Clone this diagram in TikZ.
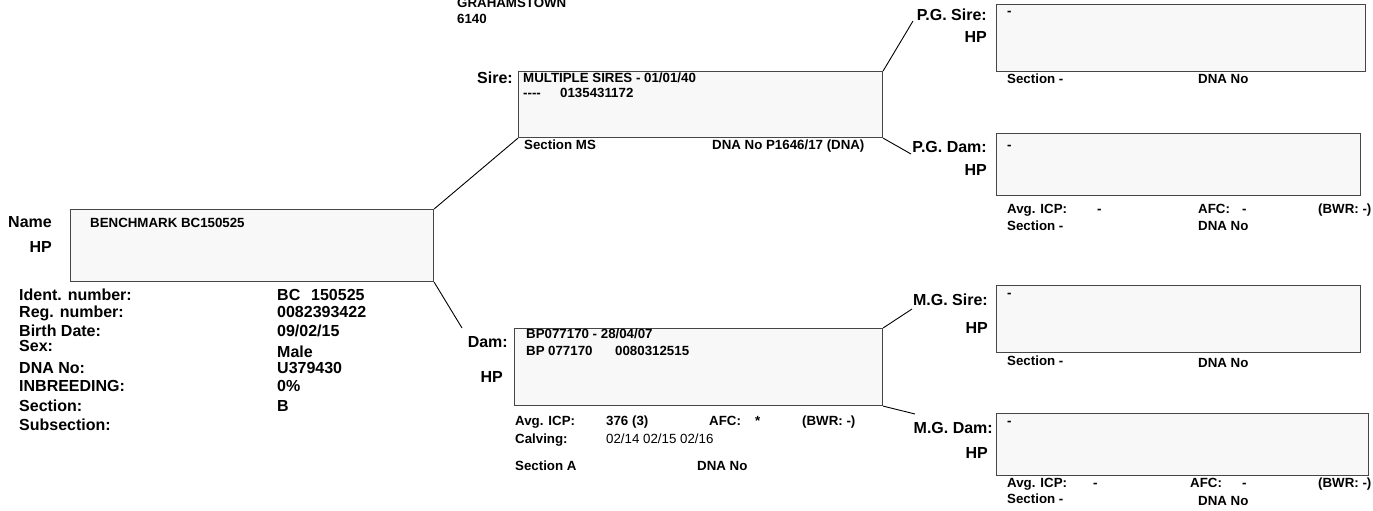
\documentclass[tikz,border=0pt]{standalone}
\usepackage{fontspec}
\setmainfont{Liberation Sans}
\definecolor{boxfill}{RGB}{248,248,248}
\definecolor{boxline}{RGB}{70,70,70}
\begin{document}
\begin{tikzpicture}[x=1pt,y=-1pt,
  pbox/.style={draw=boxline, fill=boxfill, line width=1.1pt, inner sep=0pt, anchor=north west},
  big/.style={font=\fontsize{16}{19}\selectfont\bfseries, inner sep=0pt},
  bigr/.style={big, anchor=base east},
  lst/.style={big, anchor=base west},
  sm/.style={font=\fontsize{13.3}{15}\selectfont\bfseries, inner sep=0pt, anchor=base west},
  smn/.style={font=\fontsize{13.3}{15}\selectfont, inner sep=0pt, anchor=base west},
  conn/.style={draw=black, line width=0.9pt}]
\useasboundingbox (0,0) rectangle (1373,511);

% boxes
\node[pbox, minimum width=363pt, minimum height=72pt] (main) at (70,209) {};
\node[pbox, minimum width=364pt, minimum height=66pt] (sire) at (518,71) {};
\node[pbox, minimum width=368pt, minimum height=77pt] (dam) at (514,328) {};
\node[pbox, minimum width=369pt, minimum height=67pt] (pgs) at (996,4) {};
\node[pbox, minimum width=364pt, minimum height=62pt] (pgd) at (996,133) {};
\node[pbox, minimum width=364pt, minimum height=67pt] (mgs) at (996,285) {};
\node[pbox, minimum width=372pt, minimum height=62pt] (mgd) at (996,413) {};

% free ends of connectors
\coordinate (damEnd) at (462,328);
\coordinate (pgsEnd) at (913,21);
\coordinate (pgdEnd) at (911,154);
\coordinate (mgsEnd) at (912,309);
\coordinate (mgdEnd) at (915,414);

\draw[conn] (main.north east) -- (sire.south west);
\draw[conn] (main.south east) -- (damEnd);
\draw[conn] (sire.north east) -- (pgsEnd);
\draw[conn] (sire.south east) -- (pgdEnd);
\draw[conn] (dam.north east) -- (mgsEnd);
\draw[conn] (dam.south east) -- (mgdEnd);

% top address
\node[sm] (town) at (457,8) {GRAHAMSTOWN};
\node[sm] (code) at (457,24) {6140};

% main animal
\node[bigr] (nameL) at (52,227) {Name};
\node[bigr] (hpL) at (52,252) {HP};
\node[sm] (nameT) at (90,227) {BENCHMARK BC150525};

\node[lst] (l1) at (19,300) {Ident. number:};
\node[lst] (l2) at (19,317) {Reg. number:};
\node[lst] (l3) at (19,336) {Birth Date:};
\node[lst] (l4) at (19,351) {Sex:};
\node[lst] (l5) at (19,373) {DNA No:};
\node[lst] (l6) at (19,391) {INBREEDING:};
\node[lst] (l7) at (19,411) {Section:};
\node[lst] (l8) at (19,430) {Subsection:};

\node[lst] (v1a) at (277,300) {BC};
\node[lst] (v1b) at (311,300) {150525};
\node[lst] (v2) at (277,317) {0082393422};
\node[lst] (v3) at (277,336) {09/02/15};
\node[lst] (v4) at (277,357) {Male};
\node[lst] (v5) at (277,373) {U379430};
\node[lst] (v6) at (277,391) {0\%};
\node[lst] (v7) at (277,411) {B};

% sire
\node[bigr] (sireL) at (513,84) {Sire:};
\node[sm] (sireT1) at (523,82) {MULTIPLE SIRES - 01/01/40};
\node[sm] (sireT2a) at (523,97) {-{}-{}-{}-};
\node[sm] (sireT2b) at (560,97) {0135431172};
\node[sm] (sireSec) at (524,149) {Section MS};
\node[sm] (sireDNA) at (712,149) {DNA No P1646/17 (DNA)};

% dam
\node[bigr] (damL) at (508,347) {Dam:};
\node[bigr] (damHP) at (503,382) {HP};
\node[sm] (damT1) at (526,338) {BP077170 - 28/04/07};
\node[sm] (damT2a) at (526,355) {BP};
\node[sm] (damT2b) at (548,355) {077170};
\node[sm] (damT2c) at (615,355) {0080312515};
\node[sm] (damA1) at (515,425) {Avg. ICP:};
\node[sm] (damA2) at (606,425) {376 (3)};
\node[sm] (damA3) at (709,425) {AFC:};
\node[sm] (damA4) at (755,425) {*};
\node[sm] (damA5) at (802,425) {(BWR: -)};
\node[sm] (damC1) at (515,443) {Calving:};
\node[smn] (damC2) at (606,443) {02/14 02/15 02/16};
\node[sm] (damSec) at (515,470) {Section A};
\node[sm] (damDNA) at (697,470) {DNA No};

% P.G. Sire
\node[bigr] (pgsL) at (987,21) {P.G. Sire:};
\node[bigr] (pgsHP) at (987,43) {HP};
\node[sm] (pgsT) at (1007,16) {-};
\node[sm] (pgsSec) at (1007,83) {Section -};
\node[sm] (pgsDNA) at (1198,83) {DNA No};

% P.G. Dam
\node[bigr] (pgdL) at (987,152) {P.G. Dam:};
\node[bigr] (pgdHP) at (987,175) {HP};
\node[sm] (pgdT) at (1007,149) {-};
\node[sm] (pgdA1) at (1007,213) {Avg. ICP:};
\node[sm] (pgdA2) at (1097,213) {-};
\node[sm] (pgdA3) at (1198,213) {AFC:};
\node[sm] (pgdA4) at (1242,213) {-};
\node[sm] (pgdA5) at (1318,213) {(BWR: -)};
\node[sm] (pgdSec) at (1007,230) {Section -};
\node[sm] (pgdDNA) at (1198,230) {DNA No};

% M.G. Sire
\node[bigr] (mgsL) at (988,305) {M.G. Sire:};
\node[bigr] (mgsHP) at (988,333) {HP};
\node[sm] (mgsT) at (1007,297) {-};
\node[sm] (mgsSec) at (1007,365) {Section -};
\node[sm] (mgsDNA) at (1198,367) {DNA No};

% M.G. Dam
\node[bigr] (mgdL) at (993,433) {M.G. Dam:};
\node[bigr] (mgdHP) at (988,458) {HP};
\node[sm] (mgdT) at (1007,425) {-};
\node[sm] (mgdA1) at (1007,487) {Avg. ICP:};
\node[sm] (mgdA2) at (1093,487) {-};
\node[sm] (mgdA3) at (1190,487) {AFC:};
\node[sm] (mgdA4) at (1242,487) {-};
\node[sm] (mgdA5) at (1318,487) {(BWR: -)};
\node[sm] (mgdSec) at (1007,503) {Section -};
\node[sm] (mgdDNA) at (1198,505) {DNA No};
\end{tikzpicture}
\end{document}
